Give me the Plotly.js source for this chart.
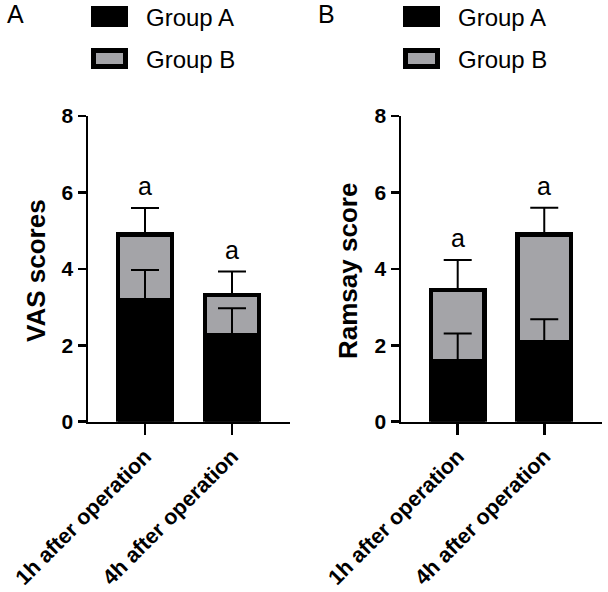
<!DOCTYPE html>
<html>
<head>
<meta charset="utf-8">
<script src="https://cdn.plot.ly/plotly-3.0.1.min.js"></script>
<style>html,body{margin:0;padding:0;background:#fff;}#chart{width:608px;height:592px;}</style>
</head>
<body>
<div id="chart"></div>
<script>
// ---- data ----
var categories = ['1h after operation', '4h after operation'];
var groupNames = ['Group A', 'Group B'];
var vasA = [3.17, 2.25];
var vasAerr = [0.80, 0.72];
var vasB = [1.73, 1.07];
var vasBerr = [0.69, 0.61];
var ramsayA = [1.58, 2.07];
var ramsayAerr = [0.73, 0.61];
var ramsayB = [1.87, 2.83];
var ramsayBerr = [0.78, 0.70];
var sigLabels = ['a', 'a'];
var panelLabels = ['A', 'B'];
var yTitles = ['VAS scores', 'Ramsay score'];
var yTickVals = [0, 2, 4, 6, 8];

// ---- styling ----
var W = 608, H = 592;
var GREY = '#a4a4a8';
var FONT = 'Liberation Sans, Arial, Helvetica, sans-serif';
function px(x) { return x / W; }
function py(y) { return 1 - y / H; }

function sum(a, b) { return a.map(function (v, i) { return v + b[i]; }); }

function panel(A, Aerr, B, Berr, xa, ya) {
  var tot = sum(A, B);
  return [
    {type: 'bar', x: categories, y: A, name: groupNames[0], xaxis: xa, yaxis: ya,
     marker: {color: '#000', line: {color: '#000', width: 4.5}}, width: 0.62, showlegend: false, hoverinfo: 'skip'},
    {type: 'bar', x: categories, y: B, name: groupNames[1], xaxis: xa, yaxis: ya,
     marker: {color: GREY, line: {color: '#000', width: 4.5}}, width: 0.62, showlegend: false, hoverinfo: 'skip'},
    {type: 'scatter', mode: 'markers', x: categories, y: A, xaxis: xa, yaxis: ya,
     marker: {opacity: 0, size: 1}, showlegend: false, hoverinfo: 'skip',
     error_y: {type: 'data', symmetric: false, array: Aerr, arrayminus: A.map(function(){return 0;}), color: '#000', thickness: 2, width: 14}},
    {type: 'scatter', mode: 'markers', x: categories, y: tot, xaxis: xa, yaxis: ya,
     marker: {opacity: 0, size: 1}, showlegend: false, hoverinfo: 'skip',
     error_y: {type: 'data', symmetric: false, array: Berr, arrayminus: B.map(function(){return 0;}), color: '#000', thickness: 2, width: 14}}
  ];
}

var data = panel(vasA, vasAerr, vasB, vasBerr, 'x', 'y')
  .concat(panel(ramsayA, ramsayAerr, ramsayB, ramsayBerr, 'x2', 'y2'));

var yDom = [py(421.7), py(116)];
function xAxis(dom, anchor) {
  return {domain: dom, anchor: anchor, range: [-0.655, 1.667], type: 'category',
    showline: true, linecolor: '#000', linewidth: 2.5, ticks: 'outside', ticklen: 11, tickwidth: 2.5, tickcolor: '#000',
    tickangle: -45, tickfont: {family: FONT, size: 21.5, color: '#000', weight: 'bold'}, showgrid: false, zeroline: false, automargin: false, fixedrange: true};
}
function yAxis(anchor) {
  return {domain: yDom, anchor: anchor, range: [0, 8], tickvals: yTickVals, ticktext: yTickVals.map(String),
    showline: true, linecolor: '#000', linewidth: 2.5, ticks: 'outside', ticklen: 8, tickwidth: 2.5, tickcolor: '#000',
    tickfont: {family: FONT, size: 21, color: '#000', weight: 'bold'}, showgrid: false, zeroline: false, automargin: false, fixedrange: true};
}

var annotations = [];
var shapes = [];
var panelX = [[px(88), px(290)], [px(401), px(602)]];
var panelData = [[vasA, vasAerr, vasB, vasBerr], [ramsayA, ramsayAerr, ramsayB, ramsayBerr]];
var labelX = [5, 316];
var titleX = [36, 348];
var swX = [91, 403];
var txtX = [144, 456];

for (var p = 0; p < 2; p++) {
  var xa = p === 0 ? 'x' : 'x2', ya = p === 0 ? 'y' : 'y2';
  var d = panelData[p];
  var tops = sum(sum(d[0], d[2]), d[3]);
  for (var i = 0; i < categories.length; i++) {
    annotations.push({xref: xa, yref: ya, x: categories[i], y: tops[i], text: sigLabels[i], showarrow: false,
      yanchor: 'bottom', yshift: 6, font: {family: FONT, size: 25, color: '#000'}});
  }
  annotations.push({xref: 'paper', yref: 'paper', x: px(labelX[p]), y: py(14), xanchor: 'left', yanchor: 'middle',
    text: panelLabels[p], showarrow: false, font: {family: FONT, size: 25, color: '#000'}});
  annotations.push({xref: 'paper', yref: 'paper', x: px(titleX[p]), y: py(271), xanchor: 'center', yanchor: 'middle',
    text: '<b>' + yTitles[p] + '</b>', textangle: -90, showarrow: false, font: {family: FONT, size: 26, color: '#000'}});
  // legend
  shapes.push({type: 'rect', xref: 'paper', yref: 'paper', x0: px(swX[p]), x1: px(swX[p] + 37), y0: py(27), y1: py(6),
    fillcolor: '#000', line: {color: '#000', width: 0}});
  shapes.push({type: 'rect', xref: 'paper', yref: 'paper', x0: px(swX[p] + 2.5), x1: px(swX[p] + 34.5), y0: py(66.5), y1: py(50.5),
    fillcolor: GREY, line: {color: '#000', width: 5}});
  annotations.push({xref: 'paper', yref: 'paper', x: px(txtX[p]), y: py(17), xanchor: 'left', yanchor: 'middle',
    text: groupNames[0], showarrow: false, font: {family: FONT, size: 24, color: '#000'}});
  annotations.push({xref: 'paper', yref: 'paper', x: px(txtX[p]), y: py(59), xanchor: 'left', yanchor: 'middle',
    text: groupNames[1], showarrow: false, font: {family: FONT, size: 24, color: '#000'}});
}

var layout = {
  width: W, height: H, margin: {l: 0, r: 0, t: 0, b: 0}, paper_bgcolor: '#fff', plot_bgcolor: '#fff',
  barmode: 'stack', showlegend: false, font: {family: FONT, color: '#000'},
  xaxis: xAxis(panelX[0], 'y'), yaxis: yAxis('x'),
  xaxis2: xAxis(panelX[1], 'y2'), yaxis2: yAxis('x2'),
  annotations: annotations, shapes: shapes
};

Plotly.newPlot('chart', data, layout, {staticPlot: true, displayModeBar: false});
</script>
</body>
</html>
